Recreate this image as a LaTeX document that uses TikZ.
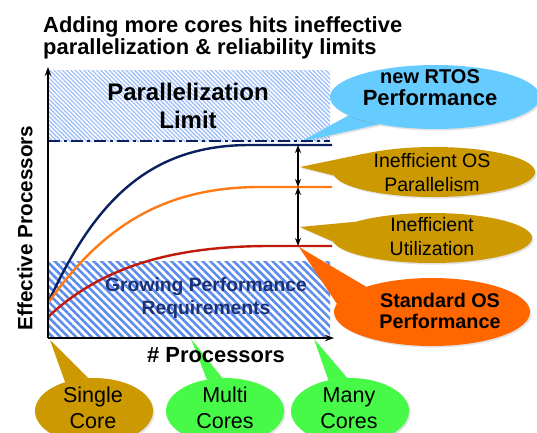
\documentclass[tikz,border=0pt]{standalone}
\usepackage{fontspec}
\setmainfont{Liberation Sans}
\usetikzlibrary{patterns.meta,shapes.geometric,shadows,arrows.meta}
\pgfdeclarelayer{back}
\pgfdeclarelayer{ground}
\pgfsetlayers{back,ground,main}

\definecolor{gold}{RGB}{204,153,0}
\definecolor{skyblue}{RGB}{102,204,255}
\definecolor{hotorange}{RGB}{255,102,0}
\definecolor{brightgreen}{RGB}{72,250,72}
\definecolor{navycurve}{RGB}{10,32,96}
\definecolor{orangecurve}{RGB}{255,122,20}
\definecolor{redcurve}{RGB}{192,26,10}
\definecolor{reqnavy}{RGB}{28,48,118}
\definecolor{hatchblue}{RGB}{92,140,238}
\definecolor{hatchlight}{RGB}{160,192,250}

\begin{document}
\begin{tikzpicture}[x=1pt,y=-1pt,
  bubble/.style={ellipse, inner sep=0pt, draw=none,
    drop shadow={opacity=0.22, shadow xshift=1.6pt, shadow yshift=-1.6pt}},
  bubbletext/.style={align=center, inner sep=0pt},
  tailfill/.style={drop shadow={opacity=0.22, shadow xshift=1.6pt, shadow yshift=-1.6pt}},
  axis/.style={line width=1.8pt, -{Stealth[length=9pt,width=6.5pt]}},
  curve/.style={line width=2.4pt},
  gap/.style={line width=1.6pt, {Stealth[length=8pt,width=6pt]}-{Stealth[length=8pt,width=6pt]}},
  big/.style={font=\fontsize{21.9}{22}\selectfont\bfseries},
]
\useasboundingbox (0,0) rectangle (537,432);
\clip (0,0) rectangle (537,432);

% hatched regions
\begin{pgfonlayer}{back}
  \fill[white] (0,0) rectangle (537,432);
  \path[pattern={Lines[angle=-45,distance=3pt,line width=1.3pt]}, pattern color=hatchlight]
    (48,70) rectangle (330,141);
  \path[pattern={Lines[angle=-45,distance=5.5pt,line width=2.6pt]}, pattern color=hatchblue]
    (48,261) rectangle (330,338);
\end{pgfonlayer}

% title
\node[big, anchor=base west, inner sep=0pt] (title1) at (43,32) {Adding more cores hits ineffective};
\node[big, anchor=base west, inner sep=0pt] (title2) at (43,54) {parallelization \& reliability limits};

% region labels
\node[font=\fontsize{24}{28}\selectfont\bfseries, align=center, inner sep=0pt] (parlim) at (188,106) {Parallelization\\Limit};
\node[font=\fontsize{19.3}{23}\selectfont\bfseries, text=reqnavy, align=center, inner sep=0pt] (growreq) at (206,298) {Growing Performance\\Requirements};

% limit line
\coordinate (limL) at (48,141);
\coordinate (limR) at (330,141);
\draw[navycurve, line width=1.8pt, dash pattern=on 12pt off 4pt on 3pt off 4pt] (limL) -- (limR);

% performance curves
\coordinate (navyEnd) at (332,145);
\coordinate (orangeEnd) at (332,187);
\coordinate (redEnd) at (332,246);
\draw[curve, navycurve] (48,303) .. controls (95,200) and (150,145) .. (250,145) -- (navyEnd);
\draw[curve, orangecurve] (48,303) .. controls (100,230) and (160,187) .. (260,187) -- (orangeEnd);
\draw[curve, redcurve] (48,317) .. controls (100,268) and (170,246) .. (270,246) -- (redEnd);

% gaps between the curves
\coordinate (gapA) at (298,145);
\coordinate (gapB) at (298,187);
\coordinate (gapC) at (298,246);
\draw[gap] (gapA) -- (gapB);
\draw[gap] (gapB) -- (gapC);

% axes
\coordinate (origin) at (48,338);
\coordinate (ytop) at (48,67);
\coordinate (xend) at (334,338);
\draw[axis] (origin) -- (ytop);
\draw[axis] (origin) -- (xend);
\node[big, inner sep=0pt] (xlabel) at (216,355) {\# Processors};
\node[font=\fontsize{20.7}{22}\selectfont\bfseries, rotate=90, inner sep=0pt] (ylabel) at (25,228) {Effective Processors};

% callout bubbles
\node[bubble, fill=skyblue, minimum width=210pt, minimum height=64pt] (rtos) at (435,97) {};
\node[bubbletext, font=\fontsize{22}{22}\selectfont\bfseries] (rtosT) at (430,88) {{\fontsize{20}{22}\selectfont new RTOS}\\Performance};

\node[bubble, fill=gold, minimum width=202pt, minimum height=50pt] (ineffOS) at (434,172) {};
\node[bubbletext, font=\fontsize{19.5}{24}\selectfont] (ineffOST) at (432,173) {Inefficient OS\\Parallelism};

\node[bubble, fill=gold, minimum width=200pt, minimum height=50pt] (ineffU) at (432,238) {};
\node[bubbletext, font=\fontsize{19.5}{24}\selectfont] (ineffUT) at (432,237) {Inefficient\\Utilization};

\node[bubble, fill=hotorange, minimum width=196pt, minimum height=68pt] (stdos) at (432,312) {};
\node[bubbletext, font=\fontsize{19.8}{21}\selectfont\bfseries] (stdosT) at (440,310.5) {Standard OS\\Performance};

\node[bubble, fill=gold, minimum width=118pt, minimum height=66pt] (single) at (94,411) {};
\node[bubbletext, font=\fontsize{21.5}{26}\selectfont] (singleT) at (93,408) {Single\\Core};

\node[bubble, fill=brightgreen, minimum width=118pt, minimum height=66pt] (multi) at (225,411) {};
\node[bubbletext, font=\fontsize{21.5}{26}\selectfont] (multiT) at (225,408) {Multi\\Cores};

\node[bubble, fill=brightgreen, minimum width=118pt, minimum height=66pt] (many) at (350,411) {};
\node[bubbletext, font=\fontsize{21.5}{26}\selectfont] (manyT) at (349,408) {Many\\Cores};

% callout tails
\coordinate (rtosTip) at (300,142);
\coordinate (ineffOSTip) at (300,167);
\coordinate (ineffUTip) at (300,227);
\coordinate (stdosTip) at (299,247);
\coordinate (singleTip) at (50,340);
\coordinate (multiTip) at (191,339);
\coordinate (manyTip) at (314,339);
\begin{pgfonlayer}{ground}
  \fill[skyblue, tailfill] (rtosTip) -- (rtos.192) -- (rtos.206) -- cycle;
  \fill[gold, tailfill] (ineffOSTip) -- (ineffOS.165) -- (ineffOS.182) -- cycle;
  \fill[gold, tailfill] (ineffUTip) -- (ineffU.168) -- (ineffU.182) -- cycle;
  \fill[hotorange, tailfill] (stdosTip) -- (stdos.159) -- (stdos.175) -- cycle;
  \fill[gold, tailfill] (singleTip) -- (single.135) -- (single.100) -- cycle;
  \fill[brightgreen, tailfill] (multiTip) -- (multi.120) -- (multi.95) -- cycle;
  \fill[brightgreen, tailfill] (manyTip) -- (many.125) -- (many.95) -- cycle;
\end{pgfonlayer}
\end{tikzpicture}
\end{document}
